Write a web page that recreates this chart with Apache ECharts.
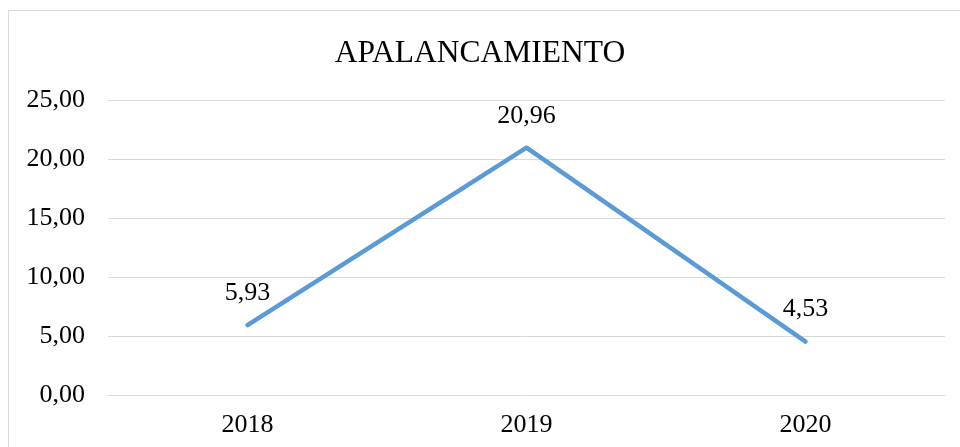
<!DOCTYPE html>
<html>
<head>
<meta charset="utf-8">
<script src="https://cdn.jsdelivr.net/npm/echarts@6/dist/echarts.min.js"></script>
<style>
  html, body { margin: 0; padding: 0; background: #fff; }
  #chart { width: 960px; height: 447px; }
</style>
</head>
<body>
<div id="chart"></div>
<script>
const years = ["2018", "2019", "2020"];
const apalancamiento = [5.93, 20.96, 4.53];
const yTicks = { min: 0, max: 25, interval: 5 };

const fmt = v => v.toFixed(2).replace(".", ",");
const serif = "'Liberation Serif', 'Times New Roman', serif";

const myChart = echarts.init(document.getElementById("chart"));
myChart.setOption({
  backgroundColor: "#fff",
  animation: false,
  graphic: [{
    type: "rect",
    shape: { x: 8.5, y: 10.5, width: 1000, height: 500 },
    style: { fill: "none", stroke: "#d9d9d9", lineWidth: 1 },
    silent: true
  }],
  title: {
    text: "APALANCAMIENTO",
    left: "center",
    top: 33,
    textStyle: { fontFamily: serif, fontSize: 31.5, fontWeight: "normal", color: "#000" }
  },
  grid: { left: 108, right: 15, top: 100, bottom: 52 },
  xAxis: {
    type: "category",
    data: years,
    axisLine: { lineStyle: { color: "#d9d9d9", width: 1 } },
    axisTick: { show: false },
    axisLabel: { fontFamily: serif, fontSize: 26, color: "#000", margin: 17 }
  },
  yAxis: {
    type: "value",
    min: yTicks.min,
    max: yTicks.max,
    interval: yTicks.interval,
    axisLine: { show: false },
    axisTick: { show: false },
    splitLine: { lineStyle: { color: "#d9d9d9", width: 1 } },
    axisLabel: { fontFamily: serif, fontSize: 26, color: "#000", margin: 23, formatter: fmt }
  },
  series: [{
    type: "line",
    data: apalancamiento,
    symbol: "circle",
    symbolSize: 2,
    showSymbol: true,
    itemStyle: { color: "#5b9bd5", borderWidth: 0 },
    lineStyle: { color: "#5b9bd5", width: 4.5, cap: "round", join: "round" },
    label: {
      show: true,
      position: "top",
      distance: 18,
      fontFamily: serif,
      fontSize: 26,
      color: "#000",
      formatter: p => fmt(p.value)
    }
  }]
});
</script>
</body>
</html>
